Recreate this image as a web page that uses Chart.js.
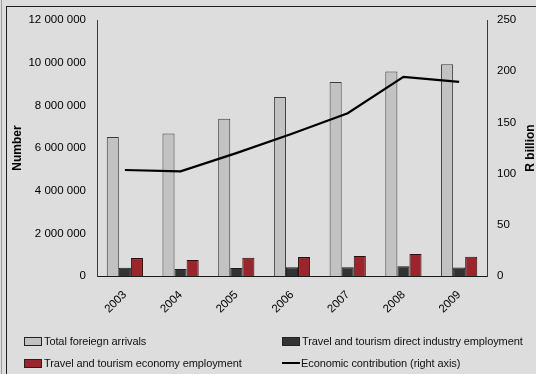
<!DOCTYPE html>
<html>
<head>
<meta charset="utf-8">
<script src="https://cdn.jsdelivr.net/npm/chart.js@4.4.1/dist/chart.umd.min.js"></script>
<style>
  html, body { margin: 0; padding: 0; }
  body {
    width: 536px; height: 374px; overflow: hidden; position: relative;
    background: #dddddd;
    font-family: "Liberation Sans", Arial, sans-serif;
  }
  .edge { position: absolute; left: 1px; top: 0; width: 1px; height: 374px; background: #9c9c9c; }
  .frame { position: absolute; left: 6px; top: 6px; width: 600px; height: 400px;
           border-left: 1px solid #1e1e1e; border-top: 1px solid #1e1e1e; }
  #wrap { position: absolute; left: 0; top: 0; width: 536px; height: 374px; }
  #legend { position: absolute; left: 0; top: 0; width: 536px; height: 374px; pointer-events: none; }
  .item { position: absolute; display: flex; align-items: center; height: 14px;
          font-size: 11px; letter-spacing: -0.1px; color: #111; white-space: nowrap; }
  .box { width: 16px; height: 7px; margin-right: 2px; border: 1px solid #222; }
  .line { width: 18px; height: 2px; margin-right: 1px; background: #000; }
</style>
</head>
<body>
<div class="edge"></div>
<div class="frame"></div>
<div id="wrap"><canvas id="c" width="536" height="374"></canvas></div>
<div id="legend"></div>
<script>
const years = ['2003', '2004', '2005', '2006', '2007', '2008', '2009'];
const arrivals = [6520000, 6680000, 7370000, 8390000, 9090000, 9590000, 9930000];
const directJobs = [390000, 330000, 375000, 410000, 410000, 455000, 395000];
const economyJobs = [840000, 750000, 860000, 890000, 940000, 1030000, 905000];
const contribution = [103.5, 102.2, 120, 139, 159, 194.5, 189.5];

const seriesNames = [
  'Total foreiegn arrivals',
  'Travel and tourism direct industry employment',
  'Travel and tourism economy employment',
  'Economic contribution (right axis)'
];
const leftTitle = 'Number';
const rightTitle = 'R billion';

const FONT = '"Liberation Sans", Arial, sans-serif';

// 12 000 000 style thousands
function spaced(v) {
  return String(v).replace(/\B(?=(\d{3})+(?!\d))/g, ' ');
}

function sideTitle(ctx, text, x, y) {
  ctx.save();
  ctx.font = 'bold 12px ' + FONT;
  ctx.fillStyle = '#000';
  ctx.textAlign = 'center';
  ctx.textBaseline = 'middle';
  ctx.translate(x, y);
  ctx.rotate(-Math.PI / 2);
  ctx.fillText(text, 0, 0);
  ctx.restore();
}

const axisTitles = {
  id: 'axisTitles',
  afterDraw(chart) {
    const { ctx, chartArea } = chart;
    const mid = (chartArea.top + chartArea.bottom) / 2;
    sideTitle(ctx, leftTitle, 18, mid);
    sideTitle(ctx, rightTitle, 531, mid);
  }
};

// two-column legend under the plot
const htmlLegend = {
  id: 'htmlLegend',
  afterUpdate(chart) {
    const el = document.getElementById('legend');
    el.innerHTML = '';
    chart.data.datasets.forEach((ds, i) => {
      const item = document.createElement('div');
      item.className = 'item';
      item.style.left = (i % 2 === 0 ? 24 : 282) + 'px';
      item.style.top = (i < 2 ? 334 : 356) + 'px';
      const mark = document.createElement('span');
      if (ds.type === 'line') {
        mark.className = 'line';
      } else {
        mark.className = 'box';
        mark.style.background = ds.backgroundColor;
      }
      item.appendChild(mark);
      item.appendChild(document.createTextNode(ds.label));
      el.appendChild(item);
    });
  }
};

const tickFont = { family: FONT, size: 11.5 };

new Chart(document.getElementById('c'), {
  type: 'bar',
  data: {
    labels: years,
    datasets: [
      { label: seriesNames[0], data: arrivals, backgroundColor: '#c2c2c2', borderColor: '#3c3c3c', borderWidth: 1, order: 1 },
      { label: seriesNames[1], data: directJobs, backgroundColor: '#333333', borderColor: '#1c1c1c', borderWidth: 1, order: 1 },
      { label: seriesNames[2], data: economyJobs, backgroundColor: '#9b252c', borderColor: '#2a0f10', borderWidth: 1, order: 1 },
      {
        type: 'line', label: seriesNames[3], data: contribution, yAxisID: 'y1',
        borderColor: '#000', borderWidth: 2.2, pointRadius: 0, tension: 0, order: 0
      }
    ]
  },
  options: {
    responsive: false,
    animation: false,
    events: [],
    datasets: { bar: { categoryPercentage: 0.65, barPercentage: 1 } },
    layout: { padding: { top: 20, left: 0, right: 0, bottom: 0 } },
    plugins: { legend: { display: false }, tooltip: { enabled: false } },
    scales: {
      x: {
        grid: { display: false, drawTicks: false },
        border: { display: true, color: '#1a1a1a', width: 1 },
        ticks: { color: '#000', font: tickFont, maxRotation: 45, minRotation: 45, padding: 12 },
        afterFit(s) { s.height = 98; }
      },
      y: {
        position: 'left',
        min: 0, max: 12000000,
        grid: { display: false, drawTicks: false },
        border: { display: true, color: '#3a3a3a', width: 1 },
        ticks: { stepSize: 2000000, color: '#000', font: tickFont, padding: 11, callback: v => spaced(v) },
        afterFit(s) { s.width = 97; }
      },
      y1: {
        position: 'right',
        min: 0, max: 250,
        grid: { display: false, drawTicks: false },
        border: { display: true, color: '#3a3a3a', width: 1 },
        ticks: { stepSize: 50, color: '#000', font: tickFont, padding: 10 },
        afterFit(s) { s.width = 49; }
      }
    }
  },
  plugins: [axisTitles, htmlLegend]
});
</script>
</body>
</html>
